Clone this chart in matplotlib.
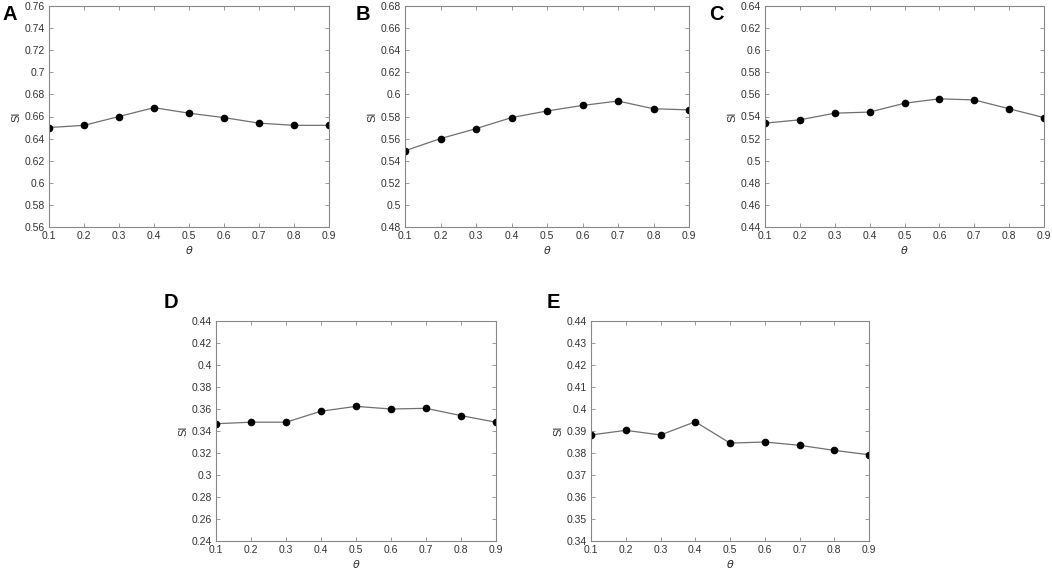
import matplotlib.pyplot as plt
import numpy as np

plt.rcParams['font.family'] = ['Liberation Sans', 'DejaVu Sans']

theta = [0.1, 0.2, 0.3, 0.4, 0.5, 0.6, 0.7, 0.8, 0.9]

si_a = [0.650, 0.652, 0.660, 0.668, 0.663, 0.659, 0.654, 0.652, 0.652]
si_b = [0.549, 0.560, 0.569, 0.579, 0.585, 0.590, 0.594, 0.587, 0.586]
si_c = [0.534, 0.537, 0.543, 0.544, 0.552, 0.556, 0.555, 0.547, 0.539]
si_d = [0.3466, 0.348, 0.348, 0.358, 0.3624, 0.360, 0.3606, 0.354, 0.348]
si_e = [0.3882, 0.3903, 0.3882, 0.3942, 0.3845, 0.385, 0.3835, 0.3812, 0.3792]

labels = ['A', 'B', 'C', 'D', 'E']
series = [si_a, si_b, si_c, si_d, si_e]
ylims = [(0.56, 0.76), (0.48, 0.68), (0.44, 0.64), (0.24, 0.44), (0.34, 0.44)]
ysteps = [0.02, 0.02, 0.02, 0.02, 0.01]

# axes boxes in pixels (left, top, right, bottom)
W, H = 1052, 569
boxes = [(49, 6, 329, 227), (405, 6, 689, 227), (765, 6, 1044, 227),
         (216, 321, 496, 541), (591, 321, 869, 541)]
# panel letter centres in pixels
letter_pos = [(10, 14), (363, 14), (716, 14), (171, 303), (553, 303)]

fig = plt.figure(figsize=(W / 100, H / 100), dpi=100)

for lab, y, yl, st, (l, t, r, b), (lx, ly) in zip(labels, series, ylims,
                                                 ysteps, boxes, letter_pos):
    ax = fig.add_axes([l / W, 1 - b / H, (r - l) / W, (b - t) / H])
    ax.plot(theta, y, color='#707070', lw=0.9, marker='o', ms=4.5,
            mfc='black', mec='black')
    ax.set_xlim(0.1, 0.9)
    ax.set_ylim(*yl)
    ax.set_xticks(theta)
    ax.set_xticklabels(['%g' % v for v in theta])
    yt = np.round(np.arange(yl[0], yl[1] + st / 2, st), 2)
    ax.set_yticks(yt)
    ax.set_yticklabels(['%g' % v for v in yt])
    ax.tick_params(direction='in', top=True, right=True, length=3,
                   width=0.6, color='#888888', labelsize=7.5,
                   labelcolor='#333333', pad=3)
    for s in ax.spines.values():
        s.set_color('#888888')
        s.set_linewidth(0.8)
    ax.set_xlabel(r'$\theta$', fontsize=8, color='#333333', labelpad=2)
    ax.set_ylabel('SI', fontsize=8, color='#333333', labelpad=2)
    fig.text(lx / W, 1 - ly / H, lab, fontsize=14.5, fontweight='bold',
             ha='center', va='center')

fig.savefig('out.png', dpi=100)
